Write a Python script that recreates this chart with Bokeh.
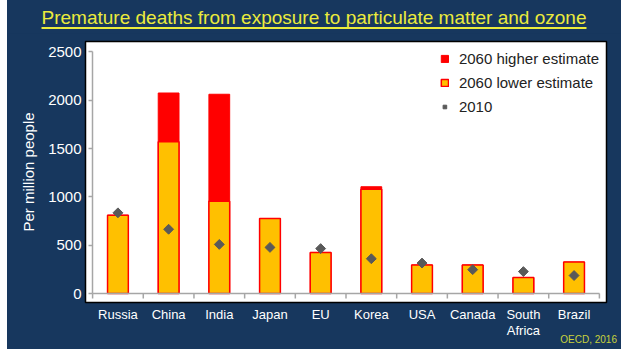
import math
from bokeh.plotting import figure
from bokeh.layouts import column
from bokeh.models import (FactorRange, Range1d, LinearAxis, CategoricalAxis, FixedTicker,
                          SingleIntervalTicker, CustomJSTickFormatter, Legend, LegendItem,
                          Div, Grid)
from bokeh.embed import file_html
from bokeh.resources import INLINE

# ---- data ----
countries = ["Russia", "China", "India", "Japan", "EU", "Korea", "USA", "Canada", "South\nAfrica", "Brazil"]
lower_2060 = [810, 1570, 955, 775, 425, 1080, 295, 295, 165, 325]
higher_2060 = [810, 2075, 2062, 775, 425, 1105, 295, 295, 165, 325]
values_2010 = [835, 665, 508, 477, 465, 360, 315, 247, 227, 186]
y_ticks_interval = 500
y_max_tick = 2500

title_text = "Premature deaths from exposure to particulate matter and ozone"
source_text = "OECD, 2016"

NAVY = "#17375E"
FONT = "Liberation Sans"
YELLOW = "#EBEB3C"
AXIS_GRAY = "#A6A6A6"

title_div = Div(
    text=('<div style="width:614px;text-align:center;color:%s;font-family:\'Liberation Sans\';'
          'font-size:19px;line-height:19px;padding-top:8px;text-decoration:underline;'
          'text-decoration-skip-ink:none;text-underline-offset:3px;'
          'text-decoration-thickness:1.5px;">%s</div>') % (YELLOW, title_text),
    width=614, height=33, margin=0,
    styles={"background-color": NAVY, "margin": "0", "padding": "0"})

source_div = Div(
    text=('<div style="width:610px;text-align:right;color:#C8D23C;font-family:\'Liberation Sans\';'
          'font-size:10px;line-height:10px;padding-top:0px;">%s</div>') % source_text,
    width=614, height=18, margin=(-10, 0, 0, 0),
    styles={"padding": "0", "position": "relative", "z-index": "5"})

p = figure(x_range=FactorRange(*countries, range_padding=0.14, range_padding_units="absolute"),
           y_range=Range1d(-93, 2608),
           width=614, height=308, margin=0,
           min_border_left=78, min_border_right=15, min_border_top=8, min_border_bottom=38,
           x_axis_location=None, y_axis_location=None,
           output_backend="svg", toolbar_location=None)
p.border_fill_color = NAVY
p.background_fill_color = "white"
p.outline_line_color = "black"
p.outline_line_width = 1.5
for g in p.select(type=Grid):
    g.visible = False

# bars
r_high = p.vbar(x=countries, top=higher_2060, bottom=0, width=0.41,
                fill_color="#FF0000", line_color="#FF0000", line_width=1)
r_low = p.vbar(x=countries, top=lower_2060, bottom=0, width=0.41,
               fill_color="#FFC000", line_color="#FF0000", line_width=1.5)
r_2010 = p.scatter(x=countries, y=values_2010, marker="square", angle=math.pi / 4,
                   size=7, fill_color="#595959", line_color="#595959")

# outer categorical axis (labels only)
xcat = CategoricalAxis(axis_line_color=None, major_tick_line_color=None,
                       minor_tick_line_color=None, major_tick_out=0, major_tick_in=0,
                       major_label_standoff=4,
                       major_label_text_color="white", major_label_text_font=FONT,
                       major_label_text_font_size="13px", major_label_text_line_height=1.1)
p.add_layout(xcat, "below")

# outer y axis (labels only)
ylab = LinearAxis(ticker=SingleIntervalTicker(interval=y_ticks_interval, num_minor_ticks=0),
                  axis_line_color=None, major_tick_line_color=None, minor_tick_line_color=None,
                  major_tick_out=0, major_tick_in=0,
                  major_label_standoff=4, major_label_text_color="white",
                  major_label_text_font=FONT, major_label_text_font_size="15px",
                  axis_label="Per million people", axis_label_text_color="white",
                  axis_label_text_font=FONT, axis_label_text_font_size="15px",
                  axis_label_text_font_style="normal", axis_label_standoff=8)
p.add_layout(ylab, "left")

# inner y axis line at the category start
yline = LinearAxis(fixed_location=0, bounds=(0, y_max_tick),
                   ticker=SingleIntervalTicker(interval=y_ticks_interval, num_minor_ticks=0),
                   formatter=CustomJSTickFormatter(code="return ''"),
                   axis_line_color=AXIS_GRAY, axis_line_width=1.5,
                   major_tick_line_color=AXIS_GRAY, major_tick_line_width=1.5,
                   major_tick_out=4, major_tick_in=0, minor_tick_line_color=None,
                   major_label_standoff=0, major_label_text_font_size="1px")
p.add_layout(yline, "left")

# x baseline at y = 0
xline = LinearAxis(fixed_location=0, bounds=(0, len(countries)),
                   ticker=FixedTicker(ticks=[]),
                   formatter=CustomJSTickFormatter(code="return ''"),
                   axis_line_color=AXIS_GRAY, axis_line_width=1.5,
                   major_tick_line_color=None, minor_tick_line_color=None,
                   major_tick_in=0, major_tick_out=0,
                   major_label_standoff=0, major_label_text_font_size="1px")
p.add_layout(xline, "above")

# category boundary ticks hanging below the baseline
boundaries = list(range(len(countries) + 1))
tick_len = 52  # data units (~5 px)
p.segment(x0=boundaries, y0=[0] * len(boundaries), x1=boundaries, y1=[-tick_len] * len(boundaries),
          line_color=AXIS_GRAY, line_width=1.5)

# legend
legend = Legend(items=[LegendItem(label="2060 higher estimate", renderers=[r_high]),
                       LegendItem(label="2060 lower estimate", renderers=[r_low]),
                       LegendItem(label="2010", renderers=[r_2010])],
                location="top_right", padding=0, margin=7, spacing=4,
                label_height=20, glyph_height=9, glyph_width=9, label_standoff=10,
                label_text_font=FONT, label_text_font_size="15px", label_text_color="#222222",
                border_line_color=None, background_fill_alpha=0)
p.add_layout(legend, "center")

layout = column(title_div, p, source_div, spacing=0, margin=(0, 0, 0, 7),
                styles={"background-color": NAVY})
open("out.html", "w").write(file_html(layout, INLINE))
